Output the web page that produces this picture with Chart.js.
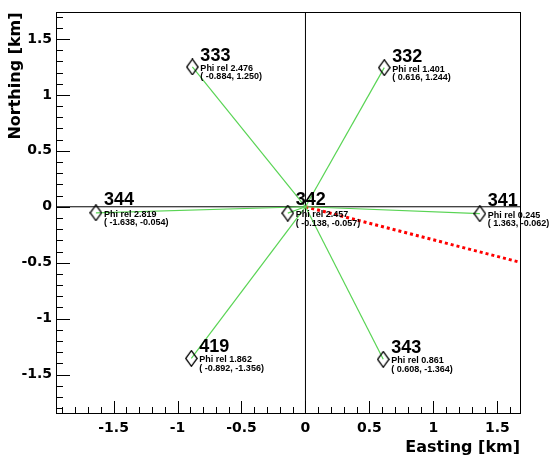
<!DOCTYPE html>
<html>
<head>
<meta charset="utf-8">
<script src="https://cdn.jsdelivr.net/npm/chart.js@4.4.1/dist/chart.umd.min.js"></script>
<style>
  body { margin: 0; background: #fff; }
  #wrap { width: 553px; height: 461px; }
</style>
</head>
<body>
<div id="wrap"><canvas id="myChart" width="553" height="461"></canvas></div>
<script>
// station data
const stations = ['341', '332', '333', '344', '419', '343', '342'];
const eastings = [1.363, 0.616, -0.884, -1.638, -0.892, 0.608, -0.138];
const northings = [-0.062, 1.244, 1.250, -0.054, -1.356, -1.364, -0.057];
const phiRel = ['0.245', '1.401', '2.476', '2.819', '1.862', '0.861', '2.457'];

// red dotted direction line
const redX = [0, 1.68];
const redY = [0, -0.497];

// axes
const xRange = [-1.95, 1.677];
const yRange = [-1.844, 1.738];
const xTicks = [-1.5, -1, -0.5, 0, 0.5, 1, 1.5];
const yTicks = [-1.5, -1, -0.5, 0, 0.5, 1, 1.5];

const FONT = "'DejaVu Sans', 'Liberation Sans', sans-serif";
const LABEL_FONT = "'Liberation Sans', Arial, sans-serif";
const GREEN = 'rgb(89, 212, 84)';

// tall open diamond used as the marker
function makeDiamond() {
    const c = document.createElement('canvas');
    c.width = 13;
    c.height = 17;
    const g = c.getContext('2d');
    g.strokeStyle = '#000';
    g.lineWidth = 1.3;
    g.beginPath();
    g.moveTo(6.5, 0.7);
    g.lineTo(12.2, 8.5);
    g.lineTo(6.5, 16.3);
    g.lineTo(0.8, 8.5);
    g.closePath();
    g.stroke();
    return c;
}

const points = stations.map((_, i) => ({ x: eastings[i], y: northings[i] }));

const datasets = [];
datasets.push({
    data: points,
    pointStyle: makeDiamond(),
    showLine: false
});
// green spokes from each station to the origin
stations.forEach((s, i) => {
    datasets.push({
        data: [{ x: eastings[i], y: northings[i] }, { x: 0, y: 0 }],
        showLine: true,
        borderColor: GREEN,
        borderWidth: 1.2,
        pointRadius: 0
    });
});
datasets.push({
    data: redX.map((x, i) => ({ x: x, y: redY[i] })),
    showLine: true,
    borderColor: '#ff0000',
    borderWidth: 3,
    borderDash: [3, 3],
    pointRadius: 0
});
// axis lines through the origin
datasets.push({
    data: [{ x: xRange[0], y: 0 }, { x: xRange[1], y: 0 }],
    showLine: true, borderColor: '#000', borderWidth: 1, pointRadius: 0
});
datasets.push({
    data: [{ x: 0, y: yRange[0] }, { x: 0, y: yRange[1] }],
    showLine: true, borderColor: '#000', borderWidth: 1, pointRadius: 0
});

const framePlugin = {
    id: 'frame',
    afterDatasetsDraw(chart) {
        const ctx = chart.ctx;
        const a = chart.chartArea;
        const xs = chart.scales.x;
        const ys = chart.scales.y;
        ctx.save();
        ctx.strokeStyle = '#000';
        ctx.lineWidth = 1;
        ctx.strokeRect(Math.round(a.left) + 0.5, Math.round(a.top) + 0.5,
            Math.round(a.right - a.left), Math.round(a.bottom - a.top));

        // ticks inside the frame, bottom and left only
        ctx.beginPath();
        for (let k = -19; k <= 16; k++) {
            const v = k / 10;
            const px = Math.round(xs.getPixelForValue(v)) + 0.5;
            const len = (k % 5 === 0) ? 12 : 6;
            ctx.moveTo(px, a.bottom);
            ctx.lineTo(px, a.bottom - len);
        }
        for (let k = -18; k <= 17; k++) {
            const v = k / 10;
            const py = Math.round(ys.getPixelForValue(v)) + 0.5;
            const len = (k % 5 === 0) ? 14 : 7;
            ctx.moveTo(a.left, py);
            ctx.lineTo(a.left + len, py);
        }
        ctx.stroke();

        // station labels
        ctx.fillStyle = '#000';
        ctx.textAlign = 'left';
        ctx.textBaseline = 'alphabetic';
        stations.forEach((s, i) => {
            const px = xs.getPixelForValue(eastings[i]);
            const py = ys.getPixelForValue(northings[i]);
            const lift = Math.abs(northings[i]) < 0.2 ? 8 : 6;
            ctx.font = 'bold 18px ' + LABEL_FONT;
            ctx.fillText(s, px + 8, py - lift);
            ctx.font = 'bold 9px ' + LABEL_FONT;
            ctx.fillText('Phi rel ' + phiRel[i], px + 8, py + 4);
            ctx.fillText('( ' + eastings[i].toFixed(3) + ', ' + northings[i].toFixed(3) + ')', px + 8, py + 12.5);
        });
        ctx.restore();
    }
};

new Chart(document.getElementById('myChart'), {
    type: 'scatter',
    data: { datasets: datasets },
    plugins: [framePlugin],
    options: {
        responsive: false,
        animation: false,
        layout: { padding: { top: 7, right: 33, left: 0, bottom: 0 } },
        plugins: { legend: { display: false }, tooltip: { enabled: false } },
        scales: {
            x: {
                type: 'linear',
                min: xRange[0],
                max: xRange[1],
                afterBuildTicks: scale => { scale.ticks = xTicks.map(v => ({ value: v })); },
                afterFit: scale => { scale.height = 48; },
                grid: { display: false, drawTicks: false },
                border: { display: false },
                ticks: {
                    padding: 7,
                    color: '#000',
                    font: { family: FONT, size: 14, weight: 'bold' },
                    callback: v => String(v)
                },
                title: {
                    display: true,
                    text: 'Easting [km]',
                    align: 'end',
                    color: '#000',
                    font: { family: FONT, size: 16, weight: 'bold' },
                    padding: { top: 0, bottom: 4 }
                }
            },
            y: {
                type: 'linear',
                min: yRange[0],
                max: yRange[1],
                afterBuildTicks: scale => { scale.ticks = yTicks.map(v => ({ value: v })); },
                afterFit: scale => { scale.width = 56; },
                grid: { display: false, drawTicks: false },
                border: { display: false },
                ticks: {
                    padding: 4,
                    color: '#000',
                    font: { family: FONT, size: 14, weight: 'bold' },
                    callback: v => String(v)
                },
                title: {
                    display: true,
                    text: 'Northing [km]',
                    align: 'end',
                    color: '#000',
                    font: { family: FONT, size: 16, weight: 'bold' },
                    padding: { top: 6, bottom: 0 }
                }
            }
        }
    }
});
</script>
</body>
</html>
